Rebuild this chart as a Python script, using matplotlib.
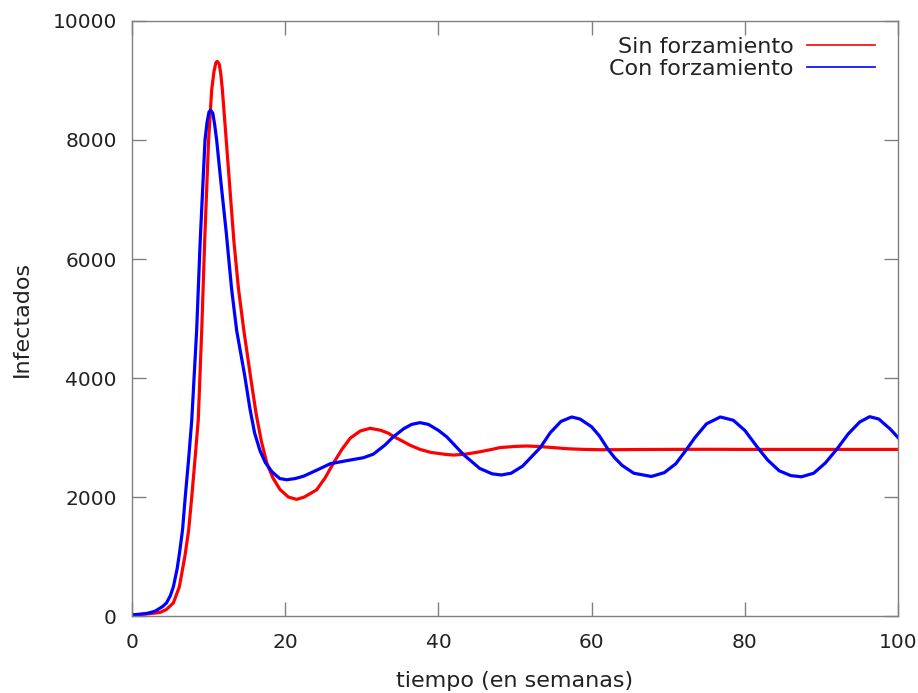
import matplotlib
matplotlib.use('agg')
import matplotlib.pyplot as plt
from matplotlib.lines import Line2D

# Infectados por semana, modelo sin forzamiento estacional
t_sin = [0, 1, 2, 3, 3.65, 4.5, 5.4, 6.18, 6.9, 7.4, 7.8, 8.3, 8.65, 9.1, 9.5, 10.0, 10.4,
         10.7, 10.95, 11.14, 11.4, 11.6, 11.8, 12.3, 12.8, 13.3, 13.9, 14.6, 15.5, 16.2,
         16.9, 17.6, 18.4, 19.3, 20.4, 21.5, 22.5, 24.1, 25.2, 26.3, 27.4, 28.5, 29.8,
         31.1, 32.5, 33.5, 34.1, 35.0, 36.3, 37.6, 39.0, 41.0, 42.0, 43.5, 45.0, 47.0,
         48.0, 50.0, 51.5, 53.0, 55.0, 57.0, 59.0, 61.0, 63.0, 66.0, 70.0, 75.0, 80.0,
         90.0, 100.0]
i_sin = [20, 25, 35, 50, 60, 110, 220, 490, 1000, 1450, 2000, 2750, 3300, 4800, 6350, 8000, 8840,
         9150, 9300, 9320, 9270, 9100, 8840, 8000, 7150, 6300, 5500, 4800, 4000, 3400,
         2930, 2570, 2320, 2130, 2000, 1960, 2000, 2120, 2320, 2570, 2800, 2990, 3110,
         3155, 3120, 3070, 3020, 2960, 2870, 2800, 2750, 2715, 2705, 2720, 2750, 2800,
         2830, 2850, 2857, 2850, 2830, 2810, 2800, 2795, 2795, 2798, 2800, 2802, 2800,
         2800, 2800]

# Infectados por semana, modelo con forzamiento estacional
t_con = [0, 1, 2, 3, 4, 4.5, 5.0, 5.4, 5.9, 6.2, 6.6, 6.95, 7.4, 7.8, 8.44, 8.9, 9.53, 9.8,
         10.05, 10.27, 10.55, 10.8, 11.05, 11.6, 12.3, 13.0, 13.66, 14.7, 15.4, 16.0,
         16.7, 17.4, 18.3, 19.3, 20.2, 21.3, 22.4, 24.1, 25.9, 28.0, 30.2, 31.5, 33.0,
         34.1, 35.5, 36.5, 37.6, 38.7, 40.0, 41.1, 43.3, 45.4, 47.0, 48.2, 49.5, 51.0,
         53.3, 54.6, 56.0, 57.4, 58.5, 60.0, 61.0, 62.1, 63.0, 64.0, 65.5, 67.8, 69.5,
         71.0, 72.4, 73.5, 75.0, 76.8, 78.5, 80.0, 81.8, 83.0, 84.5, 86.0, 87.4, 89.0,
         90.5, 92.0, 93.5, 95.0, 96.3, 97.5, 99.0, 100.0]
i_con = [20, 30, 45, 80, 160, 220, 340, 490, 800, 1060, 1450, 2000, 2650, 3290, 4800, 6300, 8000, 8300,
         8470, 8500, 8450, 8250, 8000, 7300, 6450, 5500, 4800, 4050, 3480, 3080,
         2780, 2580, 2420, 2310, 2290, 2310, 2350, 2450, 2560, 2610, 2660, 2720, 2870,
         3010, 3150, 3220, 3250, 3220, 3120, 3010, 2710, 2480, 2390, 2370, 2400, 2520,
         2830, 3080, 3270, 3345, 3310, 3180, 3030, 2810, 2660, 2530, 2400, 2345, 2410,
         2560, 2800, 3000, 3230, 3345, 3290, 3120, 2810, 2620, 2440, 2360, 2340, 2400,
         2570, 2800, 3060, 3260, 3350, 3310, 3140, 3000]

labels = ['Sin forzamiento', 'Con forzamiento']
colors = ['#ff0000', '#0000ff']
x_ticks = [0, 20, 40, 60, 80, 100]
y_ticks = [0, 2000, 4000, 6000, 8000, 10000]

plt.rcParams['font.family'] = 'DejaVu Sans'
fig = plt.figure(figsize=(9.18, 6.93), dpi=100)
ax = fig.add_axes([0.1438, 0.1111, 0.9782 - 0.1438, 0.9697 - 0.1111])

ax.plot(t_sin, i_sin, color=colors[0], lw=2.3, solid_joinstyle='round')
ax.plot(t_con, i_con, color=colors[1], lw=2.3, solid_joinstyle='round')

ax.set_xlim(0, 100)
ax.set_ylim(0, 10000)
ax.set_xticks(x_ticks)
ax.set_yticks(y_ticks)
ax.tick_params(direction='in', length=10, width=1, color='#808080', labelsize=14.5,
               labelcolor='#222222', top=True, right=True, pad=12)
ax.tick_params(axis='y', pad=11)
for sp in ax.spines.values():
    sp.set_color('#808080')
    sp.set_linewidth(1)

ax.set_xlabel('tiempo (en semanas)', fontsize=16, color='#222222', labelpad=14)
ax.set_ylabel('Infectados', fontsize=16, color='#222222', labelpad=15)

handles = [Line2D([], [], color=c, lw=1.2) for c in colors]
ax.legend(handles, labels, loc='upper right', frameon=False, markerfirst=False,
          fontsize=16, handlelength=3.05, handletextpad=0.6, labelspacing=0.12,
          borderaxespad=0.3, bbox_to_anchor=(0.99, 1.0), labelcolor='#222222')

fig.savefig('out.png', dpi=100)
plt.close(fig)
